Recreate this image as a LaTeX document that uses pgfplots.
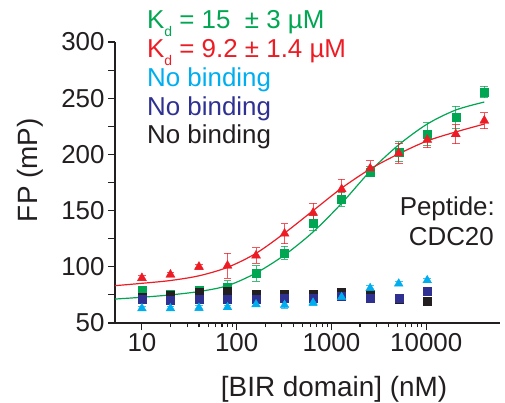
\documentclass[border=0pt]{standalone}
\usepackage{fontspec}
\setmainfont{Liberation Sans}
\usepackage{pgfplots}
\pgfplotsset{compat=1.18}

\definecolor{kgreen}{RGB}{0,166,81}
\definecolor{kred}{RGB}{237,28,36}
\definecolor{kcyan}{RGB}{0,174,239}
\definecolor{knavy}{RGB}{46,49,146}
\definecolor{kblack}{RGB}{35,31,32}

\pgfplotsset{
  errpts/.style={only marks, mark options={draw=#1, fill=#1},
    error bars/y dir=both, error bars/y explicit,
    error bars/error bar style={draw=#1, line width=0.9bp, opacity=0.75},
    error bars/error mark options={rotate=90, mark size=3.8bp, line width=0.9bp, draw=#1}},
}

\begin{document}
\begin{tikzpicture}
\begin{axis}[
  at={(0,0)}, anchor=south west,
  scale only axis, width=385bp, height=281bp,
  xmode=log, xmin=5.2, xmax=60000,
  ymin=50, ymax=300,
  axis x line*=bottom, axis y line*=left,
  axis line style={-, line width=1.2bp, color=kblack},
  tick align=outside,
  major tick length=7bp, minor tick length=4bp,
  every tick/.style={line width=1.1bp, color=kblack},
  xtick={10,100,1000,10000}, xticklabels={10,100,1000,10000},
  ytick={50,100,150,200,250,300}, yticklabels={50,100,150,200,250,300},
  extra y ticks={75,125,175,225,275}, extra y tick labels={},
  ticklabel style={font=\fontsize{26}{30}\selectfont, color=kblack},
  xlabel={[BIR domain] (nM)},
  ylabel={FP (mP)},
  label style={font=\fontsize{28}{32}\selectfont, color=kblack},
  xlabel style={at={(axis description cs:0.569,-0.263)}, anchor=base},
  ylabel style={at={(axis description cs:-0.221,0.544)}, anchor=center},
]
% fitted curves
\addplot[kgreen, line width=1.2bp, smooth, mark=none] coordinates {
(5.2,71.3) (10,72.9) (20,75) (40,78) (80,83.2) (160,94.5) (320,110.5)
(640,131) (1280,156.5) (2560,185) (5120,208.5) (10240,227) (20480,239.5) (40960,246.6)};
\addplot[kred, line width=1.2bp, smooth, mark=none] coordinates {
(5.2,83.2) (10,85.3) (20,87.8) (40,92) (80,99.5) (160,112) (320,130)
(640,150) (1280,170) (2560,187) (5120,200.5) (10240,212) (20480,220) (40960,227)};
% green squares
\addplot[mark=square*, mark size=4bp, errpts=kgreen] coordinates {
(10,79) +- (0,3) (20,76) +- (0,2) (40,79) +- (0,3) (80,81.5) +- (0,6)
(160,94) +- (0,7) (320,112.5) +- (0,6) (640,139) +- (0,7) (1280,160) +- (0,6)
(2560,184.6) +- (0,4.5) (5120,202.4) +- (0,9) (10240,218) +- (0,10)
(20480,232.7) +- (0,10) (40960,255.5) +- (0,5)};
% red triangles
\addplot[mark=triangle*, mark size=5.2bp, errpts=kred] coordinates {
(10,90) +- (0,2) (20,93) +- (0,2) (40,100) +- (0,2) (80,101) +- (0,11)
(160,110) +- (0,7) (320,129.5) +- (0,9) (640,148) +- (0,8.5) (1280,169) +- (0,9)
(2560,187.5) +- (0,7) (5120,201) +- (0,9) (10240,213) +- (0,7)
(20480,218) +- (0,8.5) (40960,230) +- (0,7)};
% black squares
\addplot[mark=square*, mark size=4bp, errpts=kblack] coordinates {
(10,73) +- (0,3) (20,75) +- (0,3) (40,77) +- (0,3) (80,78) +- (0,3)
(160,75.5) +- (0,3) (320,76) +- (0,2) (640,76) +- (0,3) (1280,77) +- (0,4)
(2560,76) +- (0,3) (5120,71) +- (0,2) (10240,69) +- (0,2)};
% navy squares
\addplot[mark=square*, mark size=4bp, errpts=knavy] coordinates {
(10,71) +- (0,4) (20,70) +- (0,3) (40,71) +- (0,3) (80,71) +- (0,3)
(160,71) +- (0,3) (320,72) +- (0,3) (640,72) +- (0,3) (1280,74) +- (0,3)
(2560,72) +- (0,3) (5120,72) +- (0,3) (10240,78.5) +- (0,2)};
% cyan triangles
\addplot[mark=triangle*, mark size=5bp, errpts=kcyan] coordinates {
(10,63) +- (0,2) (20,63) +- (0,2) (40,63.5) +- (0,2) (80,64) +- (0,2)
(160,66.5) +- (0,2) (320,66) +- (0,3) (640,68) +- (0,2) (1280,73) +- (0,3)
(2560,81) +- (0,2) (5120,85) +- (0,2) (10240,88) +- (0,2)};
\end{axis}
% annotations (axis box lower left at origin, 1bp = 1px)
\begin{scope}[every node/.style={inner sep=0pt, font=\fontsize{26}{30}\selectfont}]
\node[anchor=base west, text=kgreen] at (32bp,294bp)
  {K\raisebox{-7.5bp}{\fontsize{14}{14}\selectfont d} = 15 \ ± 3 µM};
\node[anchor=base west, text=kred] at (32bp,265bp)
  {K\raisebox{-7.5bp}{\fontsize{14}{14}\selectfont d} = 9.2 ± 1.4 µM};
\node[anchor=base west, text=kcyan] at (32bp,236bp) {No binding};
\node[anchor=base west, text=knavy] at (32bp,207.5bp) {No binding};
\node[anchor=base west, text=kblack] at (32bp,179bp) {No binding};
\node[anchor=base east, text=kblack] at (380bp,107.7bp) {Peptide:};
\node[anchor=base east, text=kblack] at (379bp,77.7bp) {CDC20};
\end{scope}
\pgfresetboundingbox
\useasboundingbox (-115bp,-80bp) rectangle (390bp,323bp);
\end{tikzpicture}
\end{document}
